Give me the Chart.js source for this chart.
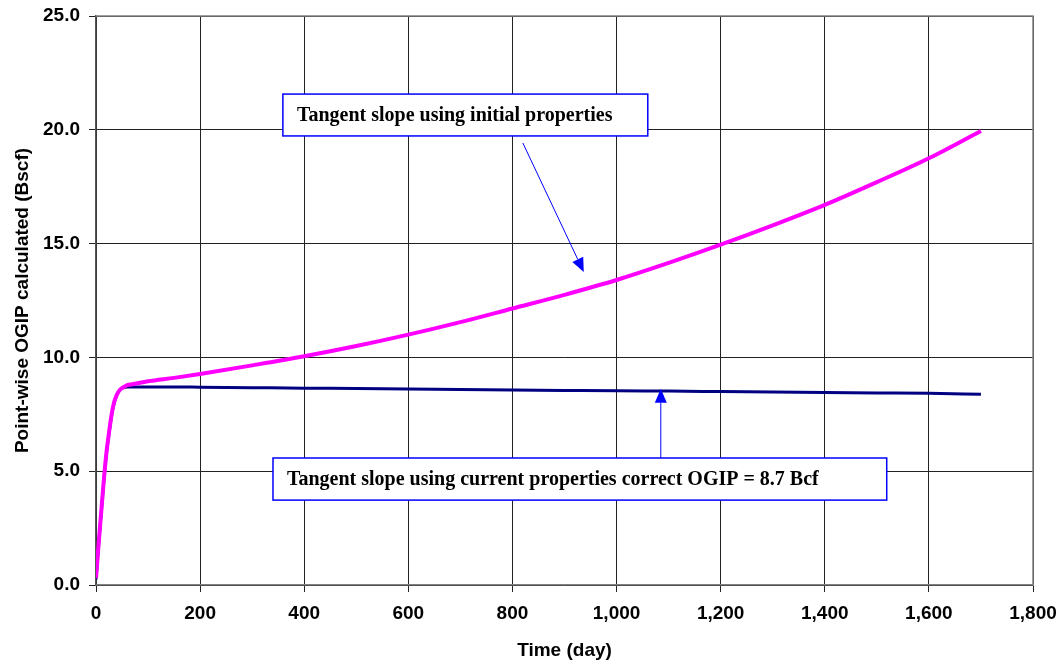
<!DOCTYPE html>
<html>
<head>
<meta charset="utf-8">
<style>
  html, body { margin: 0; padding: 0; background: #fff; }
  #wrap { width: 1064px; height: 662px; position: relative; }
</style>
<script src="https://cdn.jsdelivr.net/npm/chart.js@4/dist/chart.umd.min.js"></script>
</head>
<body>
<div id="wrap"><canvas id="chart" width="1064" height="662"></canvas></div>
<script>
// Данные: время (дни) и OGIP по точкам (Bscf)
const days = [0, 2, 5, 10, 15, 20, 25, 30, 35, 40, 45, 50, 55, 60, 70, 100, 150, 200, 300, 400, 500, 600, 700, 800, 900, 1000, 1100, 1200, 1300, 1400, 1500, 1600, 1700];
const initialProps = [0.3, 0.9, 1.8, 3.2, 4.6, 5.8, 6.7, 7.5, 8.05, 8.35, 8.55, 8.65, 8.72, 8.78, 8.82, 8.95, 9.1, 9.27, 9.65, 10.05, 10.5, 11.0, 11.55, 12.15, 12.75, 13.4, 14.15, 14.95, 15.8, 16.7, 17.7, 18.75, 19.95];
const currentProps = [0.25, 0.85, 1.75, 3.15, 4.55, 5.75, 6.65, 7.45, 8.0, 8.35, 8.55, 8.65, 8.68, 8.7, 8.7, 8.7, 8.7, 8.69, 8.67, 8.65, 8.63, 8.61, 8.59, 8.57, 8.55, 8.53, 8.52, 8.5, 8.48, 8.46, 8.44, 8.42, 8.38];

const xTicks = [0, 200, 400, 600, 800, 1000, 1200, 1400, 1600, 1800];
const yTicks = [0, 5, 10, 15, 20, 25];

const xTitle = 'Time (day)';
const yTitle = 'Point-wise OGIP calculated (Bscf)';
const noteInitial = 'Tangent slope using initial properties';
const noteCurrent = 'Tangent slope using current properties correct OGIP = 8.7 Bcf';

// Подписи-выноски в координатах данных
const callouts = [
    { text: noteInitial, box: [359, 21.57, 1060, 19.73], arrow: [820, 19.42, 937, 13.75] },
    { text: noteCurrent, box: [340, 5.58, 1519, 3.73], arrow: [1085, 5.58, 1085, 8.62] }
];

function toPoints(xs, ys) {
    return xs.map((x, i) => ({ x: x, y: ys[i] }));
}

const calloutPlugin = {
    id: 'callouts',
    afterDatasetsDraw(chart) {
        const ctx = chart.ctx;
        const xs = chart.scales.x, ys = chart.scales.y;
        ctx.save();
        callouts.forEach(c => {
            const x1 = xs.getPixelForValue(c.box[0]);
            const y1 = ys.getPixelForValue(c.box[1]);
            const x2 = xs.getPixelForValue(c.box[2]);
            const y2 = ys.getPixelForValue(c.box[3]);
            ctx.fillStyle = '#fff';
            ctx.fillRect(x1, y1, x2 - x1, y2 - y1);
            ctx.strokeStyle = '#0000ff';
            ctx.lineWidth = 1.5;
            ctx.strokeRect(x1, y1, x2 - x1, y2 - y1);
            ctx.fillStyle = '#000';
            ctx.font = 'bold 20px "Liberation Serif", "Times New Roman", serif';
            ctx.textBaseline = 'middle';
            ctx.textAlign = 'left';
            ctx.fillText(c.text, x1 + 14, (y1 + y2) / 2 + 1);

            // стрелка
            const ax1 = xs.getPixelForValue(c.arrow[0]);
            const ay1 = ys.getPixelForValue(c.arrow[1]);
            const ax2 = xs.getPixelForValue(c.arrow[2]);
            const ay2 = ys.getPixelForValue(c.arrow[3]);
            const ang = Math.atan2(ay2 - ay1, ax2 - ax1);
            const head = 14, half = 6;
            const bx = ax2 - head * Math.cos(ang), by = ay2 - head * Math.sin(ang);
            ctx.strokeStyle = '#0000ff';
            ctx.lineWidth = 1;
            ctx.beginPath();
            ctx.moveTo(ax1, ay1);
            ctx.lineTo(bx, by);
            ctx.stroke();
            ctx.fillStyle = '#0000ff';
            ctx.beginPath();
            ctx.moveTo(ax2, ay2);
            ctx.lineTo(bx + half * Math.sin(ang), by - half * Math.cos(ang));
            ctx.lineTo(bx - half * Math.sin(ang), by + half * Math.cos(ang));
            ctx.closePath();
            ctx.fill();
        });
        ctx.restore();
    }
};

const tickFont = { family: 'Arial, "Liberation Sans", sans-serif', size: 19, weight: 'bold' };

new Chart(document.getElementById('chart'), {
    type: 'line',
    data: {
        datasets: [
            {
                label: 'Initial properties',
                data: toPoints(days, initialProps),
                borderColor: '#ff00ff',
                borderWidth: 4,
                pointRadius: 0,
                cubicInterpolationMode: 'monotone',
                fill: false
            },
            {
                label: 'Current properties',
                data: toPoints(days, currentProps),
                borderColor: '#000080',
                borderWidth: 3,
                pointRadius: 0,
                cubicInterpolationMode: 'monotone',
                fill: false
            }
        ]
    },
    options: {
        responsive: false,
        animation: false,
        layout: { padding: { top: 16, right: 31, left: 0, bottom: 0 } },
        plugins: {
            legend: { display: false },
            tooltip: { enabled: false }
        },
        scales: {
            x: {
                type: 'linear',
                min: 0,
                max: 1800,
                afterBuildTicks: s => { s.ticks = xTicks.map(v => ({ value: v })); },
                afterFit: s => { s.height = 77; s.paddingLeft = 0; s.paddingRight = 0; },
                ticks: {
                    color: '#000',
                    font: tickFont,
                    padding: 10,
                    maxRotation: 0,
                    callback: v => v.toLocaleString('en-US')
                },
                grid: { color: '#222', lineWidth: 1, tickLength: 7, tickColor: '#222' },
                border: { color: '#808080', width: 1.5 },
                title: {
                    display: true,
                    text: xTitle,
                    color: '#000',
                    font: tickFont,
                    padding: { top: 4, bottom: 0 }
                }
            },
            y: {
                min: 0,
                max: 25,
                afterBuildTicks: s => { s.ticks = yTicks.map(v => ({ value: v })); },
                afterFit: s => { s.width = 96; s.paddingTop = 0; s.paddingBottom = 0; },
                ticks: {
                    color: '#000',
                    font: tickFont,
                    padding: 9,
                    callback: v => v.toFixed(1)
                },
                grid: { color: '#222', lineWidth: 1, tickLength: 7, tickColor: '#222' },
                border: { color: '#555', width: 1.5 },
                title: {
                    display: true,
                    text: yTitle,
                    color: '#000',
                    font: tickFont,
                    padding: { top: 11, bottom: 4 }
                }
            }
        }
    },
    plugins: [calloutPlugin, {
        id: 'frame',
        afterDraw(chart) {
            const a = chart.chartArea, ctx = chart.ctx;
            ctx.save();
            ctx.strokeStyle = '#808080';
            ctx.lineWidth = 1.5;
            ctx.beginPath();
            ctx.moveTo(a.left, a.top);
            ctx.lineTo(a.right, a.top);
            ctx.lineTo(a.right, a.bottom);
            ctx.stroke();
            ctx.restore();
        }
    }]
});
</script>
</body>
</html>
